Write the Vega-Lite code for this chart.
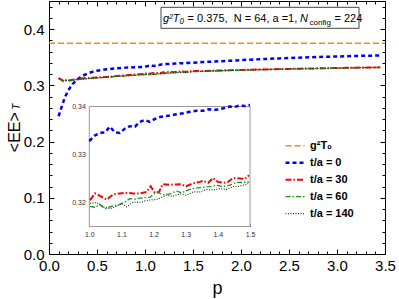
{
"$schema": "https://vega.github.io/schema/vega-lite/v6.json",
"width": 336, "height": 253,
"autosize": {"type": "none"},
"padding": {"left": 49, "top": 1, "right": 14, "bottom": 45},
"config": {
 "view": {"stroke": "black", "strokeWidth": 1},
 "font": "Liberation Sans",
 "axis": {"tickColor": "black", "labelColor": "black", "titleColor": "black", "domain": false, "grid": false, "labelFont": "Liberation Sans", "titleFont": "Liberation Sans", "labelFlush": false, "labelOverlap": false},
 "legend": {"orient": "none", "legendX": 235, "legendY": 136.3, "symbolType": "stroke", "symbolSize": 361, "labelFontSize": 11, "labelFontWeight": "bold", "labelColor": "black", "labelFont": "Liberation Sans", "clipHeight": 16.7, "rowPadding": 0, "padding": 0, "labelOffset": 4, "symbolOffset": 0}
},
"datasets": {
 "curves": [
  {"s":"g²T₀","p":0,"v":0.375},{"s":"g²T₀","p":3.5,"v":0.375},
  {"s":"t/a = 0","p":0.1,"v":0.245},{"s":"t/a = 0","p":0.125,"v":0.258},{"s":"t/a = 0","p":0.15,"v":0.271},{"s":"t/a = 0","p":0.175,"v":0.282},{"s":"t/a = 0","p":0.2,"v":0.291},{"s":"t/a = 0","p":0.25,"v":0.303},{"s":"t/a = 0","p":0.3,"v":0.311},{"s":"t/a = 0","p":0.35,"v":0.317},{"s":"t/a = 0","p":0.4,"v":0.321},{"s":"t/a = 0","p":0.45,"v":0.324},{"s":"t/a = 0","p":0.5,"v":0.326},{"s":"t/a = 0","p":0.6,"v":0.3285},{"s":"t/a = 0","p":0.7,"v":0.3305},{"s":"t/a = 0","p":0.8,"v":0.3315},{"s":"t/a = 0","p":0.9,"v":0.3322},{"s":"t/a = 0","p":0.95,"v":0.3325},
  {"s":"t/a = 0","p":1.0,"v":0.3328},{"s":"t/a = 0","p":1.018,"v":0.334},{"s":"t/a = 0","p":1.033,"v":0.3345},{"s":"t/a = 0","p":1.049,"v":0.3346},{"s":"t/a = 0","p":1.064,"v":0.3358},{"s":"t/a = 0","p":1.08,"v":0.3346},{"s":"t/a = 0","p":1.095,"v":0.3345},{"s":"t/a = 0","p":1.111,"v":0.3354},{"s":"t/a = 0","p":1.126,"v":0.3359},{"s":"t/a = 0","p":1.142,"v":0.3358},{"s":"t/a = 0","p":1.157,"v":0.3368},{"s":"t/a = 0","p":1.173,"v":0.3372},{"s":"t/a = 0","p":1.188,"v":0.3368},{"s":"t/a = 0","p":1.204,"v":0.3374},{"s":"t/a = 0","p":1.22,"v":0.3378},{"s":"t/a = 0","p":1.235,"v":0.338},{"s":"t/a = 0","p":1.251,"v":0.3381},{"s":"t/a = 0","p":1.271,"v":0.3384},{"s":"t/a = 0","p":1.292,"v":0.3386},{"s":"t/a = 0","p":1.313,"v":0.3389},{"s":"t/a = 0","p":1.333,"v":0.3391},{"s":"t/a = 0","p":1.354,"v":0.3391},{"s":"t/a = 0","p":1.37,"v":0.3394},{"s":"t/a = 0","p":1.39,"v":0.3393},{"s":"t/a = 0","p":1.406,"v":0.3394},{"s":"t/a = 0","p":1.42,"v":0.3397},{"s":"t/a = 0","p":1.437,"v":0.34},{"s":"t/a = 0","p":1.452,"v":0.3399},{"s":"t/a = 0","p":1.468,"v":0.3402},{"s":"t/a = 0","p":1.485,"v":0.3401},{"s":"t/a = 0","p":1.5,"v":0.3403},
  {"s":"t/a = 0","p":1.6,"v":0.3413},{"s":"t/a = 0","p":1.7,"v":0.3422},{"s":"t/a = 0","p":1.8,"v":0.343},{"s":"t/a = 0","p":1.9,"v":0.3439},{"s":"t/a = 0","p":2.0,"v":0.3448},{"s":"t/a = 0","p":2.1,"v":0.3457},{"s":"t/a = 0","p":2.2,"v":0.3465},{"s":"t/a = 0","p":2.3,"v":0.3472},{"s":"t/a = 0","p":2.4,"v":0.3479},{"s":"t/a = 0","p":2.5,"v":0.3485},{"s":"t/a = 0","p":2.6,"v":0.3491},{"s":"t/a = 0","p":2.7,"v":0.3498},{"s":"t/a = 0","p":2.8,"v":0.3504},{"s":"t/a = 0","p":2.9,"v":0.3509},{"s":"t/a = 0","p":3.0,"v":0.3513},{"s":"t/a = 0","p":3.1,"v":0.3518},{"s":"t/a = 0","p":3.2,"v":0.3522},{"s":"t/a = 0","p":3.3,"v":0.3526},{"s":"t/a = 0","p":3.45,"v":0.353},
  {"s":"t/a = 30","p":0.1,"v":0.313},{"s":"t/a = 30","p":0.12,"v":0.311},{"s":"t/a = 30","p":0.15,"v":0.307},{"s":"t/a = 30","p":0.175,"v":0.309},{"s":"t/a = 30","p":0.2,"v":0.308},{"s":"t/a = 30","p":0.25,"v":0.31},{"s":"t/a = 30","p":0.3,"v":0.311},{"s":"t/a = 30","p":0.35,"v":0.3125},{"s":"t/a = 30","p":0.4,"v":0.3128},{"s":"t/a = 30","p":0.45,"v":0.3135},{"s":"t/a = 30","p":0.5,"v":0.314},{"s":"t/a = 30","p":0.55,"v":0.3145},{"s":"t/a = 30","p":0.6,"v":0.315},{"s":"t/a = 30","p":0.7,"v":0.3165},{"s":"t/a = 30","p":0.8,"v":0.318},{"s":"t/a = 30","p":0.9,"v":0.3195},{"s":"t/a = 30","p":0.95,"v":0.3198},
  {"s":"t/a = 30","p":1.002,"v":0.3205},{"s":"t/a = 30","p":1.018,"v":0.3219},{"s":"t/a = 30","p":1.033,"v":0.3214},{"s":"t/a = 30","p":1.054,"v":0.3206},{"s":"t/a = 30","p":1.075,"v":0.3217},{"s":"t/a = 30","p":1.095,"v":0.3219},{"s":"t/a = 30","p":1.116,"v":0.322},{"s":"t/a = 30","p":1.137,"v":0.3219},{"s":"t/a = 30","p":1.157,"v":0.3219},{"s":"t/a = 30","p":1.178,"v":0.3222},{"s":"t/a = 30","p":1.191,"v":0.3234},{"s":"t/a = 30","p":1.204,"v":0.322},{"s":"t/a = 30","p":1.217,"v":0.3222},{"s":"t/a = 30","p":1.228,"v":0.3238},{"s":"t/a = 30","p":1.251,"v":0.3237},{"s":"t/a = 30","p":1.282,"v":0.3238},{"s":"t/a = 30","p":1.302,"v":0.3234},{"s":"t/a = 30","p":1.323,"v":0.324},{"s":"t/a = 30","p":1.344,"v":0.3243},{"s":"t/a = 30","p":1.354,"v":0.3245},{"s":"t/a = 30","p":1.37,"v":0.3241},{"s":"t/a = 30","p":1.385,"v":0.3251},{"s":"t/a = 30","p":1.4,"v":0.3243},{"s":"t/a = 30","p":1.416,"v":0.3241},{"s":"t/a = 30","p":1.432,"v":0.3243},{"s":"t/a = 30","p":1.447,"v":0.3251},{"s":"t/a = 30","p":1.468,"v":0.325},{"s":"t/a = 30","p":1.483,"v":0.3249},{"s":"t/a = 30","p":1.497,"v":0.3257},
  {"s":"t/a = 30","p":1.6,"v":0.3256},{"s":"t/a = 30","p":1.7,"v":0.3261},{"s":"t/a = 30","p":1.8,"v":0.3266},{"s":"t/a = 30","p":1.9,"v":0.327},{"s":"t/a = 30","p":2.0,"v":0.3274},{"s":"t/a = 30","p":2.1,"v":0.3278},{"s":"t/a = 30","p":2.2,"v":0.3282},{"s":"t/a = 30","p":2.3,"v":0.3285},{"s":"t/a = 30","p":2.4,"v":0.3289},{"s":"t/a = 30","p":2.5,"v":0.3292},{"s":"t/a = 30","p":2.6,"v":0.3296},{"s":"t/a = 30","p":2.7,"v":0.3299},{"s":"t/a = 30","p":2.8,"v":0.3302},{"s":"t/a = 30","p":2.9,"v":0.3305},{"s":"t/a = 30","p":3.0,"v":0.3308},{"s":"t/a = 30","p":3.1,"v":0.3311},{"s":"t/a = 30","p":3.2,"v":0.3314},{"s":"t/a = 30","p":3.3,"v":0.3317},{"s":"t/a = 30","p":3.45,"v":0.332},
  {"s":"t/a = 60","p":0.1,"v":0.3125},{"s":"t/a = 60","p":0.12,"v":0.31},{"s":"t/a = 60","p":0.15,"v":0.309},{"s":"t/a = 60","p":0.175,"v":0.3085},{"s":"t/a = 60","p":0.2,"v":0.309},{"s":"t/a = 60","p":0.25,"v":0.3095},{"s":"t/a = 60","p":0.3,"v":0.3105},{"s":"t/a = 60","p":0.35,"v":0.3115},{"s":"t/a = 60","p":0.4,"v":0.312},{"s":"t/a = 60","p":0.45,"v":0.3125},{"s":"t/a = 60","p":0.5,"v":0.3135},{"s":"t/a = 60","p":0.6,"v":0.3145},{"s":"t/a = 60","p":0.7,"v":0.316},{"s":"t/a = 60","p":0.8,"v":0.317},{"s":"t/a = 60","p":0.9,"v":0.318},{"s":"t/a = 60","p":0.95,"v":0.3185},
  {"s":"t/a = 60","p":1.002,"v":0.3192},{"s":"t/a = 60","p":1.018,"v":0.319},{"s":"t/a = 60","p":1.033,"v":0.3196},{"s":"t/a = 60","p":1.049,"v":0.3187},{"s":"t/a = 60","p":1.064,"v":0.3191},{"s":"t/a = 60","p":1.08,"v":0.3194},{"s":"t/a = 60","p":1.095,"v":0.3196},{"s":"t/a = 60","p":1.111,"v":0.3201},{"s":"t/a = 60","p":1.126,"v":0.3208},{"s":"t/a = 60","p":1.142,"v":0.3207},{"s":"t/a = 60","p":1.157,"v":0.3209},{"s":"t/a = 60","p":1.173,"v":0.321},{"s":"t/a = 60","p":1.189,"v":0.3211},{"s":"t/a = 60","p":1.209,"v":0.3222},{"s":"t/a = 60","p":1.23,"v":0.3216},{"s":"t/a = 60","p":1.251,"v":0.3218},{"s":"t/a = 60","p":1.271,"v":0.3224},{"s":"t/a = 60","p":1.287,"v":0.322},{"s":"t/a = 60","p":1.302,"v":0.3225},{"s":"t/a = 60","p":1.323,"v":0.3229},{"s":"t/a = 60","p":1.354,"v":0.3232},{"s":"t/a = 60","p":1.375,"v":0.3233},{"s":"t/a = 60","p":1.396,"v":0.3236},{"s":"t/a = 60","p":1.416,"v":0.3233},{"s":"t/a = 60","p":1.437,"v":0.3236},{"s":"t/a = 60","p":1.458,"v":0.3242},{"s":"t/a = 60","p":1.478,"v":0.3242},{"s":"t/a = 60","p":1.497,"v":0.3243},
  {"s":"t/a = 60","p":1.6,"v":0.3249},{"s":"t/a = 60","p":1.7,"v":0.3255},{"s":"t/a = 60","p":1.8,"v":0.326},{"s":"t/a = 60","p":1.9,"v":0.3265},{"s":"t/a = 60","p":2.0,"v":0.327},{"s":"t/a = 60","p":2.1,"v":0.3274},{"s":"t/a = 60","p":2.2,"v":0.3278},{"s":"t/a = 60","p":2.3,"v":0.3282},{"s":"t/a = 60","p":2.4,"v":0.3286},{"s":"t/a = 60","p":2.5,"v":0.329},{"s":"t/a = 60","p":2.6,"v":0.3293},{"s":"t/a = 60","p":2.7,"v":0.3296},{"s":"t/a = 60","p":2.8,"v":0.3299},{"s":"t/a = 60","p":2.9,"v":0.3303},{"s":"t/a = 60","p":3.0,"v":0.3306},{"s":"t/a = 60","p":3.1,"v":0.3309},{"s":"t/a = 60","p":3.2,"v":0.3312},{"s":"t/a = 60","p":3.3,"v":0.3315},{"s":"t/a = 60","p":3.45,"v":0.3318},
  {"s":"t/a = 140","p":0.1,"v":0.312},{"s":"t/a = 140","p":0.12,"v":0.3105},{"s":"t/a = 140","p":0.15,"v":0.309},{"s":"t/a = 140","p":0.175,"v":0.3085},{"s":"t/a = 140","p":0.2,"v":0.3088},{"s":"t/a = 140","p":0.25,"v":0.3095},{"s":"t/a = 140","p":0.3,"v":0.3105},{"s":"t/a = 140","p":0.35,"v":0.311},{"s":"t/a = 140","p":0.4,"v":0.3118},{"s":"t/a = 140","p":0.45,"v":0.3125},{"s":"t/a = 140","p":0.5,"v":0.313},{"s":"t/a = 140","p":0.6,"v":0.3143},{"s":"t/a = 140","p":0.7,"v":0.3158},{"s":"t/a = 140","p":0.8,"v":0.3168},{"s":"t/a = 140","p":0.9,"v":0.3178},{"s":"t/a = 140","p":0.95,"v":0.3185},
  {"s":"t/a = 140","p":1.002,"v":0.3198},{"s":"t/a = 140","p":1.023,"v":0.32},{"s":"t/a = 140","p":1.043,"v":0.3191},{"s":"t/a = 140","p":1.064,"v":0.3187},{"s":"t/a = 140","p":1.085,"v":0.3192},{"s":"t/a = 140","p":1.101,"v":0.3198},{"s":"t/a = 140","p":1.116,"v":0.3191},{"s":"t/a = 140","p":1.137,"v":0.3201},{"s":"t/a = 140","p":1.157,"v":0.32},{"s":"t/a = 140","p":1.183,"v":0.3205},{"s":"t/a = 140","p":1.209,"v":0.3206},{"s":"t/a = 140","p":1.24,"v":0.3215},{"s":"t/a = 140","p":1.261,"v":0.3213},{"s":"t/a = 140","p":1.282,"v":0.3218},{"s":"t/a = 140","p":1.302,"v":0.3215},{"s":"t/a = 140","p":1.323,"v":0.3222},{"s":"t/a = 140","p":1.344,"v":0.3222},{"s":"t/a = 140","p":1.365,"v":0.3227},{"s":"t/a = 140","p":1.385,"v":0.3226},{"s":"t/a = 140","p":1.406,"v":0.3229},{"s":"t/a = 140","p":1.426,"v":0.3227},{"s":"t/a = 140","p":1.447,"v":0.3233},{"s":"t/a = 140","p":1.468,"v":0.3234},{"s":"t/a = 140","p":1.489,"v":0.3238},{"s":"t/a = 140","p":1.497,"v":0.3243},
  {"s":"t/a = 140","p":1.6,"v":0.3248},{"s":"t/a = 140","p":1.7,"v":0.3254},{"s":"t/a = 140","p":1.8,"v":0.326},{"s":"t/a = 140","p":1.9,"v":0.3265},{"s":"t/a = 140","p":2.0,"v":0.327},{"s":"t/a = 140","p":2.1,"v":0.3274},{"s":"t/a = 140","p":2.2,"v":0.3278},{"s":"t/a = 140","p":2.3,"v":0.3282},{"s":"t/a = 140","p":2.4,"v":0.3286},{"s":"t/a = 140","p":2.5,"v":0.329},{"s":"t/a = 140","p":2.6,"v":0.3293},{"s":"t/a = 140","p":2.7,"v":0.3297},{"s":"t/a = 140","p":2.8,"v":0.33},{"s":"t/a = 140","p":2.9,"v":0.3304},{"s":"t/a = 140","p":3.0,"v":0.3307},{"s":"t/a = 140","p":3.1,"v":0.331},{"s":"t/a = 140","p":3.2,"v":0.3313},{"s":"t/a = 140","p":3.3,"v":0.3316},{"s":"t/a = 140","p":3.45,"v":0.332}
 ]
},
"layer": [
 {
  "layer": [
   {
    "data": {"name": "curves"},
    "mark": {"type": "line"},
    "encoding": {
     "x": {"field": "p", "type": "quantitative", "scale": {"domain": [0, 3.5], "nice": false, "zero": false},
       "axis": {"orient": "bottom", "values": [0, 0.5, 1, 1.5, 2, 2.5, 3, 3.5], "format": ".1f", "tickSize": -5, "labelFontSize": 15, "labelPadding": 9, "title": "p", "titleFontSize": 18, "titleFontWeight": "normal", "titleBaseline": "alphabetic", "titleY": 39}},
     "y": {"field": "v", "type": "quantitative", "scale": {"domain": [0, 0.45], "nice": false, "zero": false},
       "axis": {"orient": "left", "values": [0, 0.1, 0.2, 0.3, 0.4], "format": ".1f", "tickSize": -5, "labelFontSize": 15, "labelPadding": 10, "title": "<EE>", "titleFontSize": 16, "titleFontWeight": "normal", "titleBaseline": "alphabetic", "titleX": -30, "titleY": 130.7}},
     "color": {"field": "s", "type": "nominal", "scale": {"domain": ["g²T₀", "t/a = 0", "t/a = 30", "t/a = 60", "t/a = 140"], "range": ["#F7861B", "#0000FF", "#FF0000", "#119911", "#333333"]}, "legend": {"title": null}},
     "strokeDash": {"field": "s", "type": "nominal", "scale": {"domain": ["g²T₀", "t/a = 0", "t/a = 30", "t/a = 60", "t/a = 140"], "range": [[6, 3], [4, 3], [6, 2, 1.5, 2], [5, 2, 1.5, 2], [1, 1.5]]}, "legend": {"title": null}},
     "strokeWidth": {"field": "s", "type": "nominal", "scale": {"type": "ordinal", "domain": ["g²T₀", "t/a = 0", "t/a = 30", "t/a = 60", "t/a = 140"], "range": [1.5, 2.5, 2, 1.3, 1.2]}, "legend": {"title": null}}
    }
   },
   {
    "data": {"values": [{}]},
    "mark": {"type": "rect", "fill": "white", "stroke": "#444444", "strokeWidth": 1},
    "encoding": {
     "x": {"datum": 1.1667, "type": "quantitative", "scale": {"domain": [0, 3.5], "nice": false, "zero": false},
       "axis": {"orient": "bottom", "values": [0.1,0.2,0.3,0.4,0.6,0.7,0.8,0.9,1.1,1.2,1.3,1.4,1.6,1.7,1.8,1.9,2.1,2.2,2.3,2.4,2.6,2.7,2.8,2.9,3.1,3.2,3.3,3.4], "labels": false, "tickSize": -3, "title": null}},
     "x2": {"datum": 3.2292},
     "y": {"datum": 0.4388, "type": "quantitative", "scale": {"domain": [0, 0.45], "nice": false, "zero": false},
       "axis": {"orient": "left", "values": [0.02,0.04,0.06,0.08,0.12,0.14,0.16,0.18,0.22,0.24,0.26,0.28,0.32,0.34,0.36,0.38,0.42,0.44], "labels": false, "tickSize": -3, "title": null}},
     "y2": {"datum": 0.4014}
    }
   },
   {
    "data": {"values": [{}]},
    "mark": {"type": "text", "text": "g²T₀", "fontStyle": "italic", "fontSize": 11, "align": "left", "baseline": "alphabetic", "color": "black"},
    "encoding": {
     "x": {"datum": 1.1875, "type": "quantitative", "scale": {"domain": [0, 3.5], "nice": false, "zero": false},
       "axis": {"orient": "top", "values": [0, 0.5, 1, 1.5, 2, 2.5, 3, 3.5], "labels": false, "tickSize": -5, "title": null}},
     "y": {"datum": 0.4118, "type": "quantitative", "scale": {"domain": [0, 0.45], "nice": false, "zero": false},
       "axis": {"orient": "right", "values": [0, 0.1, 0.2, 0.3, 0.4], "labels": false, "tickSize": -5, "title": null}}
    }
   },
   {
    "data": {"values": [{}]},
    "mark": {"type": "text", "text": "= 0.375,\u00a0 N = 64, a =1,", "fontSize": 11, "align": "left", "baseline": "alphabetic", "color": "black"},
    "encoding": {
     "x": {"datum": 1.4427, "type": "quantitative", "scale": {"domain": [0, 3.5], "nice": false, "zero": false},
       "axis": {"orient": "top", "values": [0.1,0.2,0.3,0.4,0.6,0.7,0.8,0.9,1.1,1.2,1.3,1.4,1.6,1.7,1.8,1.9,2.1,2.2,2.3,2.4,2.6,2.7,2.8,2.9,3.1,3.2,3.3,3.4], "labels": false, "tickSize": -3, "title": null}},
     "y": {"datum": 0.4118, "type": "quantitative", "scale": {"domain": [0, 0.45], "nice": false, "zero": false},
       "axis": {"orient": "right", "values": [0.02,0.04,0.06,0.08,0.12,0.14,0.16,0.18,0.22,0.24,0.26,0.28,0.32,0.34,0.36,0.38,0.42,0.44], "labels": false, "tickSize": -3, "title": null}}
    }
   },
   {
    "data": {"values": [{}]},
    "mark": {"type": "text", "text": "N", "fontStyle": "italic", "fontSize": 11, "align": "left", "baseline": "alphabetic", "color": "black"},
    "encoding": {
     "x": {"datum": 2.6146, "type": "quantitative", "scale": {"domain": [0, 3.5], "nice": false, "zero": false}, "axis": null},
     "y": {"datum": 0.4118, "type": "quantitative", "scale": {"domain": [0, 0.45], "nice": false, "zero": false}, "axis": null}
    }
   },
   {
    "data": {"values": [{}]},
    "mark": {"type": "text", "text": "config", "fontSize": 8, "align": "left", "baseline": "alphabetic", "color": "black"},
    "encoding": {
     "x": {"datum": 2.7135, "type": "quantitative", "scale": {"domain": [0, 3.5], "nice": false, "zero": false}, "axis": null},
     "y": {"datum": 0.4073, "type": "quantitative", "scale": {"domain": [0, 0.45], "nice": false, "zero": false}, "axis": null}
    }
   },
   {
    "data": {"values": [{}]},
    "mark": {"type": "text", "text": "= 224", "fontSize": 11, "align": "left", "baseline": "alphabetic", "color": "black"},
    "encoding": {
     "x": {"datum": 2.974, "type": "quantitative", "scale": {"domain": [0, 3.5], "nice": false, "zero": false}, "axis": null},
     "y": {"datum": 0.4118, "type": "quantitative", "scale": {"domain": [0, 0.45], "nice": false, "zero": false}, "axis": null}
    }
   },
   {
    "data": {"values": [{}]},
    "mark": {"type": "text", "text": "T", "fontStyle": "italic", "fontSize": 10, "angle": 270, "align": "center", "baseline": "alphabetic", "color": "black"},
    "encoding": {
     "x": {"datum": -0.299, "type": "quantitative", "scale": {"domain": [0, 3.5], "nice": false, "zero": false}, "axis": null},
     "y": {"datum": 0.262, "type": "quantitative", "scale": {"domain": [0, 0.45], "nice": false, "zero": false}, "axis": null}
    }
   }
  ],
  "resolve": {"axis": {"x": "independent", "y": "independent"}}
 },
 {
  "layer": [
   {
    "data": {"values": [{}]},
    "mark": {"type": "rect", "fill": "white", "stroke": "#999999", "strokeWidth": 1},
    "encoding": {
     "x": {"datum": 1, "type": "quantitative", "scale": {"domain": [1, 1.5], "range": [40.3, 201], "nice": false, "zero": false},
       "axis": {"orient": "bottom", "offset": -27.5, "values": [1.02,1.04,1.06,1.08,1.12,1.14,1.16,1.18,1.22,1.24,1.26,1.28,1.32,1.34,1.36,1.38,1.42,1.44,1.46,1.48], "labels": false, "tickSize": -1.5, "tickColor": "#888888", "title": null}},
     "x2": {"datum": 1.5},
     "y": {"datum": 0.315, "type": "quantitative", "scale": {"domain": [0.315, 0.34], "range": [225.5, 105.5], "nice": false, "zero": false},
       "axis": {"orient": "left", "offset": -40.3, "values": [0.316,0.318,0.322,0.324,0.326,0.328,0.332,0.334,0.336,0.338], "labels": false, "tickSize": -1.5, "tickColor": "#888888", "title": null}},
     "y2": {"datum": 0.34}
    }
   },
   {
    "data": {"name": "curves"},
    "transform": [{"filter": "datum.p >= 1 && datum.p <= 1.5"}],
    "mark": {"type": "line"},
    "encoding": {
     "x": {"field": "p", "type": "quantitative", "scale": {"domain": [1, 1.5], "range": [40.3, 201], "nice": false, "zero": false},
       "axis": {"orient": "bottom", "offset": -27.5, "values": [1, 1.1, 1.2, 1.3, 1.4, 1.5], "format": ".1f", "tickSize": -3, "tickColor": "#888888", "labelFontSize": 7, "labelColor": "#333333", "labelPadding": 6.7, "title": null}},
     "y": {"field": "v", "type": "quantitative", "scale": {"domain": [0.315, 0.34], "range": [225.5, 105.5], "nice": false, "zero": false},
       "axis": {"orient": "left", "offset": -40.3, "values": [0.32, 0.33, 0.34], "format": ".2f", "tickSize": -3, "tickColor": "#888888", "labelFontSize": 7, "labelColor": "#333333", "labelPadding": 7, "title": null}},
     "color": {"field": "s", "type": "nominal", "scale": {"domain": ["g²T₀", "t/a = 0", "t/a = 30", "t/a = 60", "t/a = 140"], "range": ["#F7861B", "#0000FF", "#FF0000", "#119911", "#333333"]}, "legend": null},
     "strokeDash": {"field": "s", "type": "nominal", "scale": {"domain": ["g²T₀", "t/a = 0", "t/a = 30", "t/a = 60", "t/a = 140"], "range": [[6, 3], [4, 3], [6, 2, 1.5, 2], [5, 2, 1.5, 2], [1, 1.5]]}, "legend": null},
     "strokeWidth": {"field": "s", "type": "nominal", "scale": {"type": "ordinal", "domain": ["g²T₀", "t/a = 0", "t/a = 30", "t/a = 60", "t/a = 140"], "range": [1.5, 2.5, 2, 1.3, 1.2]}, "legend": null}
    }
   }
  ],
  "resolve": {"axis": {"x": "independent", "y": "independent"}}
 }
],
"resolve": {"scale": {"x": "independent", "y": "independent", "color": "independent", "strokeDash": "independent", "strokeWidth": "independent"}}
}
